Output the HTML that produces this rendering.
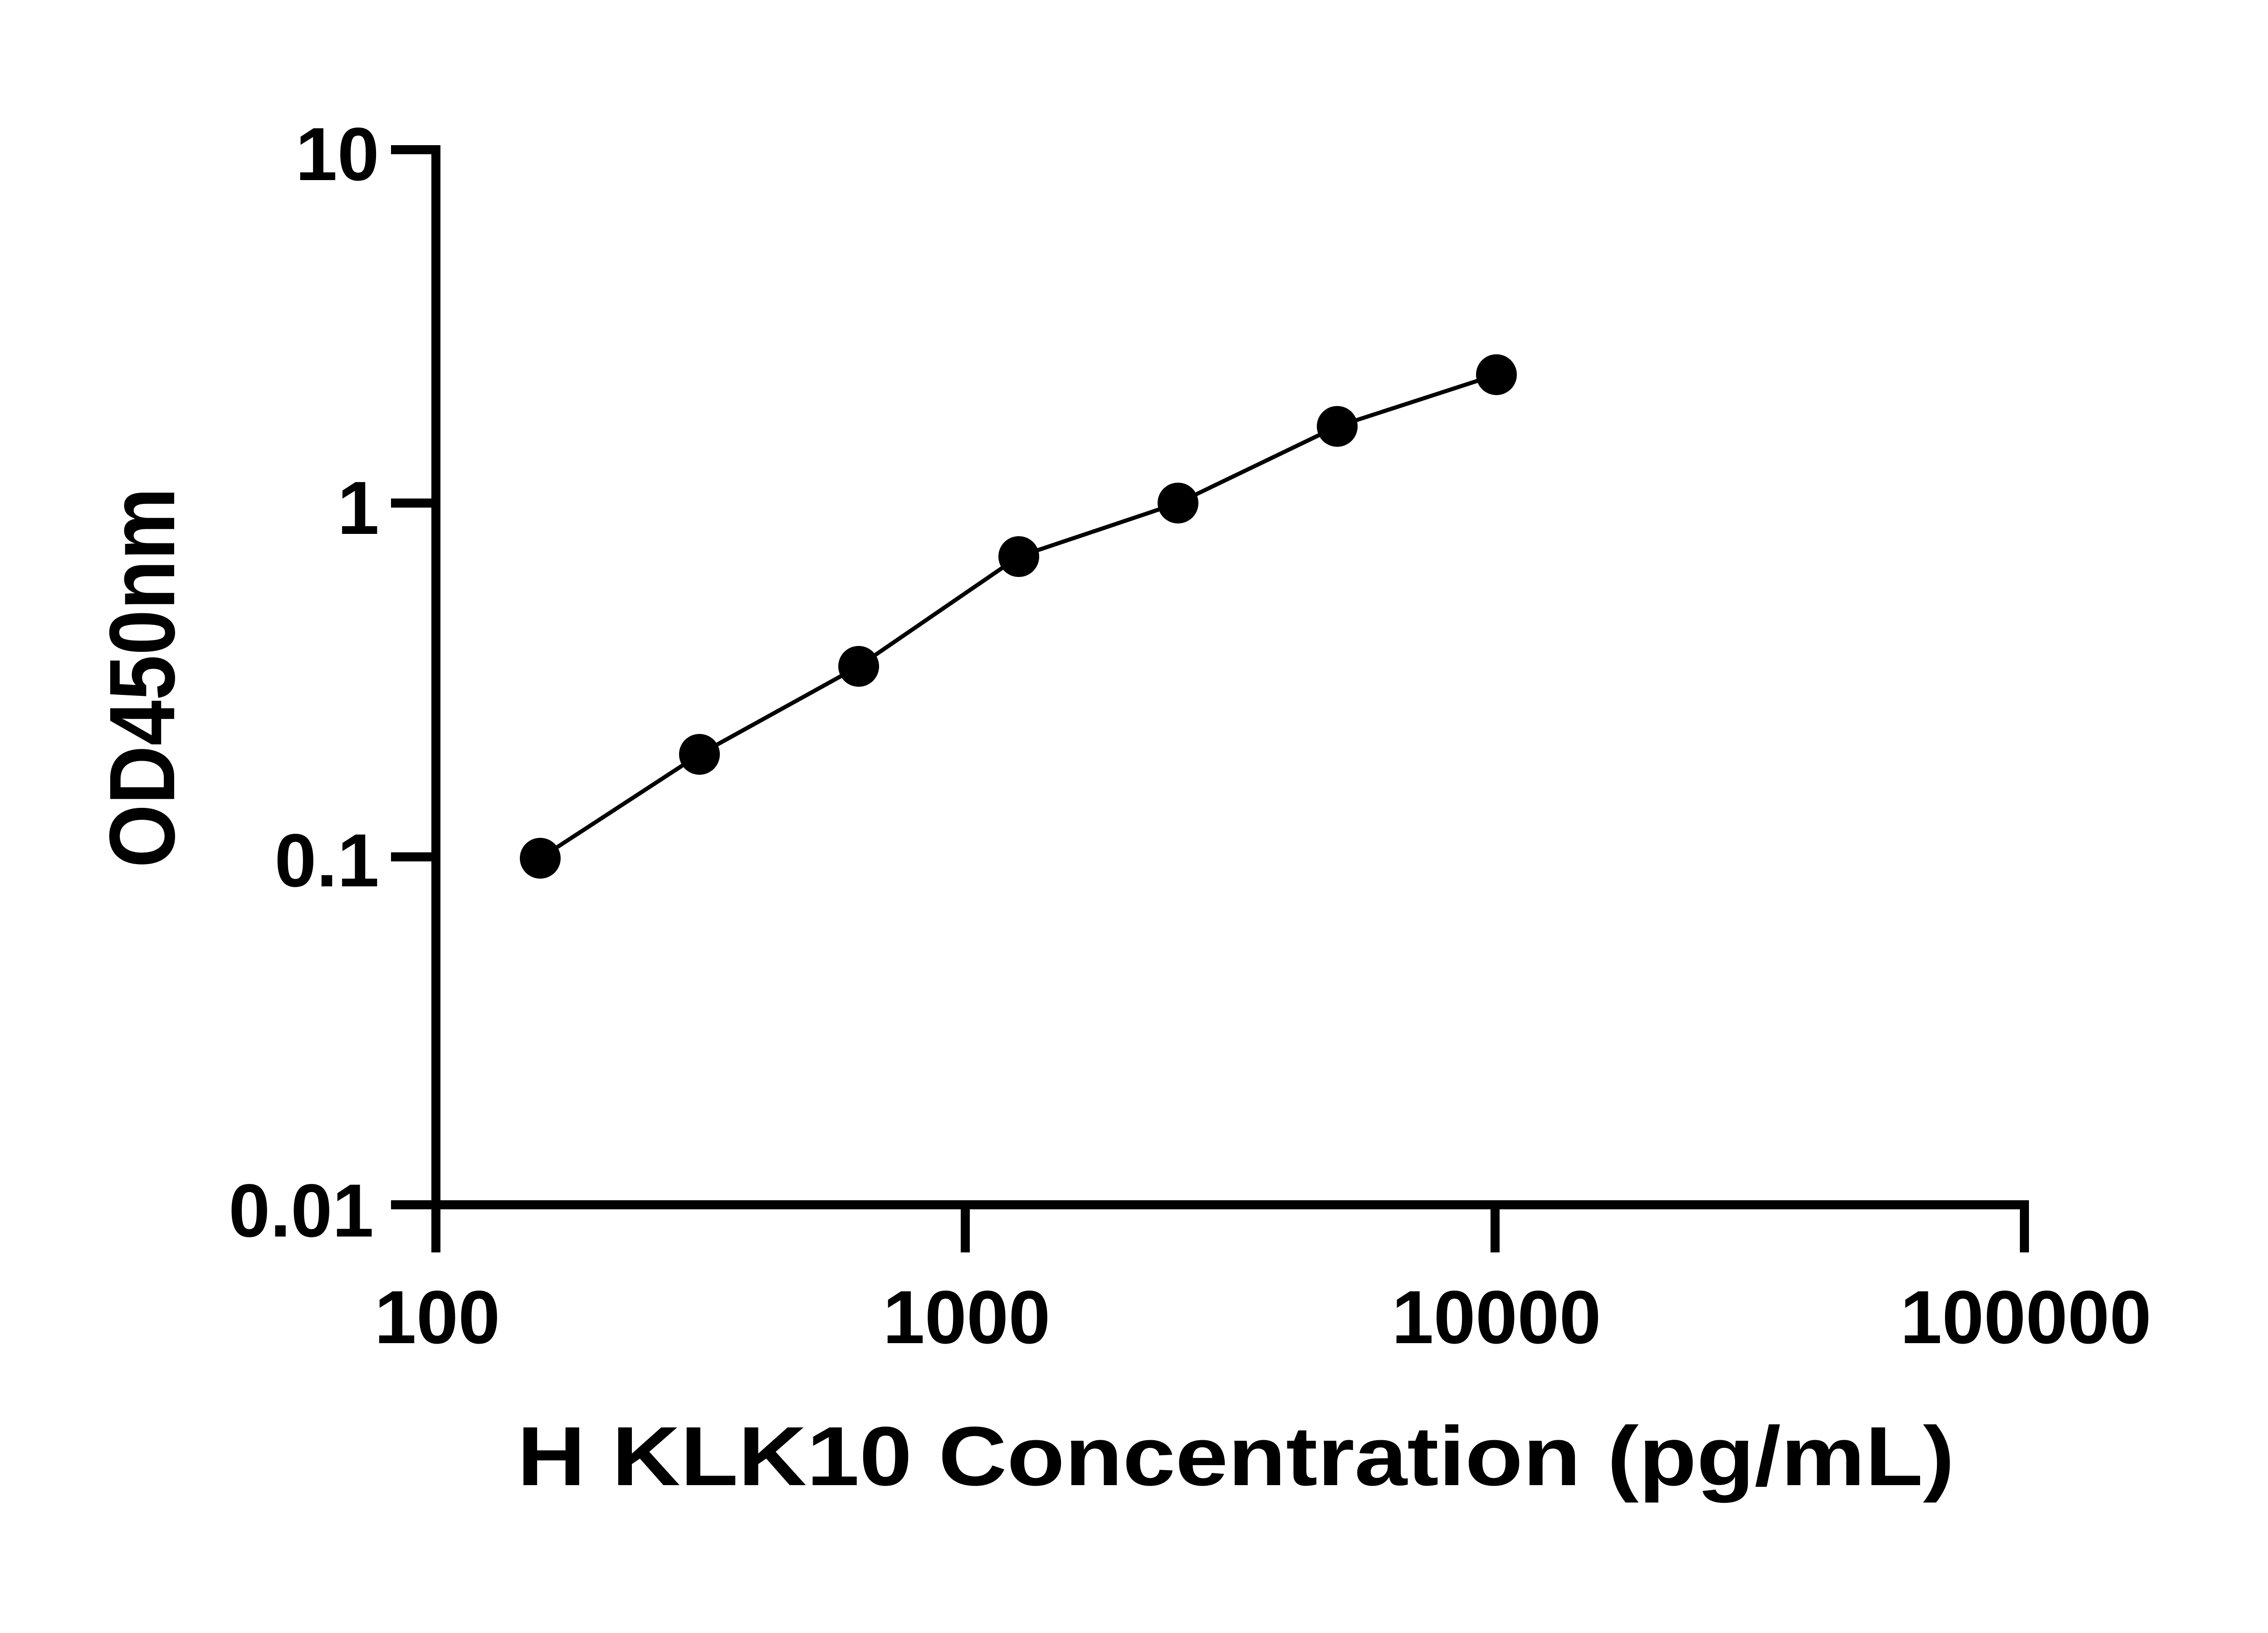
<!DOCTYPE html>
<html><head><meta charset="utf-8"><style>html,body{margin:0;padding:0;background:#fff}svg{display:block}</style></head>
<body>
<svg width="5142" height="3600" viewBox="0 0 5142 3600" xmlns="http://www.w3.org/2000/svg">
<rect width="5142" height="3600" fill="#fff"/>
<g stroke="#000" stroke-width="20" fill="none" stroke-linecap="butt">
<line x1="961" y1="320" x2="961" y2="2666"/>
<line x1="951" y1="2656" x2="4473" y2="2656"/>
<line x1="862" y1="330" x2="971" y2="330"/>
<line x1="862" y1="1109" x2="961" y2="1109"/>
<line x1="862" y1="1889" x2="961" y2="1889"/>
<line x1="862" y1="2656" x2="961" y2="2656"/>
<line x1="961" y1="2656" x2="961" y2="2761"/>
<line x1="2128" y1="2656" x2="2128" y2="2761"/>
<line x1="3296" y1="2656" x2="3296" y2="2761"/>
<line x1="4463" y1="2646" x2="4463" y2="2761"/>
</g>
<g font-family="Liberation Sans, sans-serif" font-weight="bold" font-size="166" fill="#000">
<text x="836" y="397" text-anchor="end">10</text>
<text x="836" y="1177" text-anchor="end">1</text>
<text x="836" y="1954" text-anchor="end">0.1</text>
<text x="824" y="2726" text-anchor="end" textLength="320" lengthAdjust="spacingAndGlyphs">0.01</text>
<text x="964" y="2961" text-anchor="middle">100</text>
<text x="2131" y="2961" text-anchor="middle">1000</text>
<text x="3299" y="2961" text-anchor="middle">10000</text>
<text x="4466" y="2961" text-anchor="middle">100000</text>
</g>
<text x="1140" y="3274" font-family="Liberation Sans, sans-serif" font-weight="bold" font-size="185" textLength="3169" lengthAdjust="spacingAndGlyphs">H KLK10 Concentration (pg/mL)</text>
<text transform="translate(384,1913) rotate(-90)" font-family="Liberation Sans, sans-serif" font-weight="bold" font-size="205" textLength="838" lengthAdjust="spacingAndGlyphs">OD450nm</text>
<polyline points="1191,1892 1542,1663 1893,1469 2246,1227 2597,1109 2948,940 3299,826" fill="none" stroke="#000" stroke-width="9"/>
<g fill="#000">
<circle cx="1191" cy="1892" r="45"/>
<circle cx="1542" cy="1663" r="45"/>
<circle cx="1893" cy="1469" r="45"/>
<circle cx="2246" cy="1227" r="45"/>
<circle cx="2597" cy="1109" r="45"/>
<circle cx="2948" cy="940" r="45"/>
<circle cx="3299" cy="826" r="45"/>
</g>
</svg>
</body></html>
